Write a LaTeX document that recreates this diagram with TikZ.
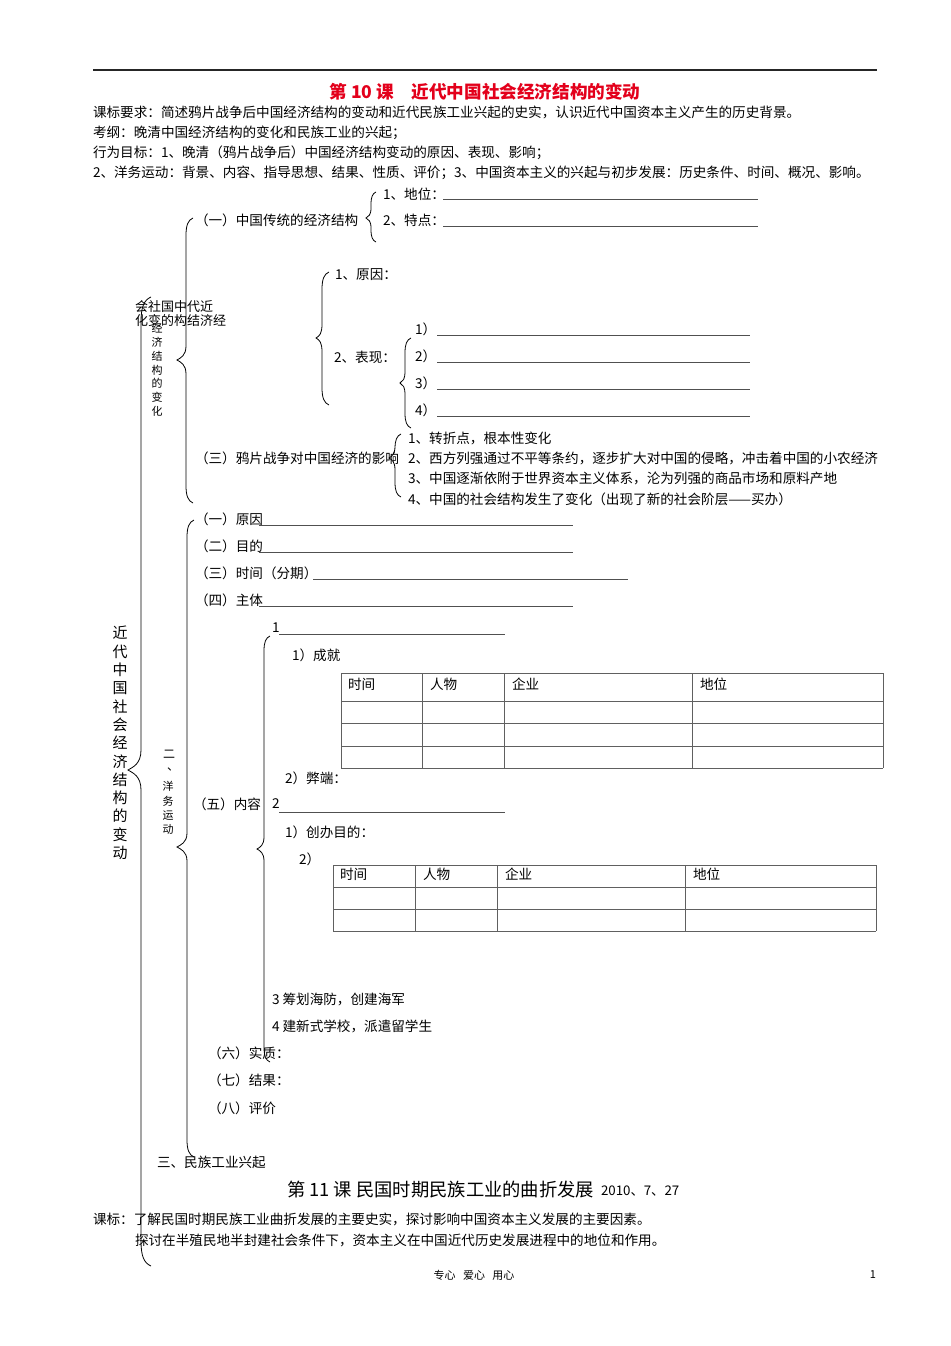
\documentclass[tikz,border=0pt]{standalone}
\usepackage{fontspec}
\setmainfont{Noto Sans CJK SC}
\definecolor{titlered}{HTML}{E3001B}
\definecolor{linegray}{HTML}{505050}
\definecolor{tablegray}{HTML}{606060}
\newcommand\mybrace[6]{% #1 x, #2 top y, #3 tip y, #4 bottom y, #5 tip x, #6 hook
  \draw[bracestyle] (#1+#6,#2) .. controls (#1+0.3*#6,#2+0.3*#6) and (#1,#2+#6) .. (#1,#2+2.5*#6)
    -- (#1,#3-2*#6) .. controls (#1,#3-0.6*#6) and (#5+0.5*#6,#3-0.3*#6) .. (#5,#3)
    .. controls (#5+0.5*#6,#3+0.3*#6) and (#1,#3+0.6*#6) .. (#1,#3+2*#6)
    -- (#1,#4-2.5*#6) .. controls (#1,#4-#6) and (#1+0.3*#6,#4-0.3*#6) .. (#1+#6,#4);}
\begin{document}
\begin{tikzpicture}[x=1pt,y=-1pt,
  txt/.style={inner sep=0pt,outer sep=0pt,anchor=west,font=\fontsize{13.6}{16}\selectfont},
  vtxt/.style={inner sep=0pt,outer sep=0pt,anchor=center,align=center},
  uline/.style={draw=linegray,line width=0.8pt},
  tline/.style={draw=tablegray,line width=1pt},
  bracestyle/.style={draw=black,line width=0.8pt},
  rule/.style={draw=black!85,line width=1.1pt}]
\useasboundingbox (0,0) rectangle (950,1346);
% top rule
\coordinate (ruleL) at (93,70); \coordinate (ruleR) at (877,70);
\draw[rule] (ruleL) -- (ruleR);
% header
\node[inner sep=0pt,anchor=center,text=titlered,font=\fontsize{17.6}{20}\selectfont\bfseries] (title1) at (485,92) {第 10 课　近代中国社会经济结构的变动};
\node[txt] (h1) at (93,112) {课标要求：简述鸦片战争后中国经济结构的变动和近代民族工业兴起的史实，认识近代中国资本主义产生的历史背景。};
\node[txt] (h2) at (93,133) {考纲：晚清中国经济结构的变化和民族工业的兴起；};
\node[txt] (h3) at (93,153) {行为目标：1、晚清（鸦片战争后）中国经济结构变动的原因、表现、影响；};
\node[txt] (h4) at (93,173) {2、洋务运动：背景、内容、指导思想、结果、性质、评价；3、中国资本主义的兴起与初步发展：历史条件、时间、概况、影响。};
% ---------- section one ----------
\node[txt] (a1) at (383,194) {1、地位：};
\coordinate (a1s) at (443,199); \coordinate (a1e) at (758,199);
\draw[uline] (a1s) -- (a1e);
\node[txt] (s11) at (195,220) {（一）中国传统的经济结构};
\node[txt] (a2) at (383,220) {2、特点：};
\coordinate (a2s) at (443,226); \coordinate (a2e) at (758,226);
\draw[uline] (a2s) -- (a2e);
\mybrace{371}{192}{218}{242}{366}{5}
\node[txt] (b1) at (335,275) {1、原因：};
\node[txt] (b2) at (334,357) {2、表现：};
\mybrace{322}{272}{338}{405}{316}{7}
\mybrace{405}{338}{383}{428}{400}{6}
\foreach \i/\yy in {1/329,2/356,3/383,4/410}{
  \node[txt] (p\i) at (415,\yy) {\i）};
  \coordinate (ps\i) at (437,\yy+6); \coordinate (pe\i) at (750,\yy+6);
  \draw[uline] (ps\i) -- (pe\i);
}
\node[txt] (s13) at (195,458) {（三）鸦片战争对中国经济的影响};
\mybrace{395}{434}{458}{497}{389}{6}
\node[txt] (c1) at (408,438) {1、转折点，根本性变化};
\node[txt] (c2) at (408,458) {2、西方列强通过不平等条约，逐步扩大对中国的侵略，冲击着中国的小农经济};
\node[txt] (c3) at (408,478) {3、中国逐渐依附于世界资本主义体系，沦为列强的商品市场和原料产地};
\node[txt] (c4) at (408,499) {4、中国的社会结构发生了变化（出现了新的社会阶层——买办）};
\mybrace{186}{218}{360}{503}{177}{7}
% garbled label
\node[txt,font=\fontsize{13}{15}\selectfont] (g1) at (135,307) {会社国中代近};
\node[txt,font=\fontsize{13}{15}\selectfont] (g2) at (135,321) {化变的构结济经};
\node[vtxt,font=\fontsize{11}{13.8}\selectfont] (v1) at (157,370) {经\\济\\结\\构\\的\\变\\化};
% ---------- section two ----------
\node[txt] (d1) at (195,519) {（一）原因};
\coordinate (d1s) at (259,525); \coordinate (d1e) at (573,525); \draw[uline] (d1s) -- (d1e);
\node[txt] (d2) at (195,546) {（二）目的};
\coordinate (d2s) at (259,552); \coordinate (d2e) at (573,552); \draw[uline] (d2s) -- (d2e);
\node[txt] (d3) at (195,573) {（三）时间（分期）};
\coordinate (d3s) at (313,579); \coordinate (d3e) at (628,579); \draw[uline] (d3s) -- (d3e);
\node[txt] (d4) at (195,600) {（四）主体};
\coordinate (d4s) at (259,606); \coordinate (d4e) at (573,606); \draw[uline] (d4s) -- (d4e);
\node[txt] (e1) at (272,628) {1};
\coordinate (e1s) at (279,634); \coordinate (e1e) at (505,634); \draw[uline] (e1s) -- (e1e);
\node[txt] (e11) at (292,655) {1）成就};
% table 1
\foreach \yy [count=\k] in {673,701,723,746,768}{
  \coordinate (t1l\k) at (341,\yy); \coordinate (t1r\k) at (883,\yy);
  \draw[tline] (t1l\k) -- (t1r\k);
}
\foreach \xx [count=\k] in {341,422,504,692,883}{
  \coordinate (t1t\k) at (\xx,673); \coordinate (t1b\k) at (\xx,768);
  \draw[tline] (t1t\k) -- (t1b\k);
}
\node[txt] (t1h1) at (348,684) {时间};
\node[txt] (t1h2) at (430,684) {人物};
\node[txt] (t1h3) at (512,684) {企业};
\node[txt] (t1h4) at (700,684) {地位};
\node[txt] (e12) at (285,778) {2）弊端：};
\node[txt] (s25) at (193,804) {（五）内容};
\node[txt] (e2) at (272,804) {2};
\coordinate (e2s) at (279,812); \coordinate (e2e) at (505,812); \draw[uline] (e2s) -- (e2e);
\node[txt] (e21) at (285,832) {1）创办目的：};
\node[txt] (e22) at (299,859) {2）};
% table 2
\foreach \yy [count=\k] in {865,887,909,931}{
  \coordinate (t2l\k) at (333,\yy); \coordinate (t2r\k) at (876,\yy);
  \draw[tline] (t2l\k) -- (t2r\k);
}
\foreach \xx [count=\k] in {333,415,497,685,876}{
  \coordinate (t2t\k) at (\xx,865); \coordinate (t2b\k) at (\xx,931);
  \draw[tline] (t2t\k) -- (t2b\k);
}
\node[txt] (t2h1) at (340,874) {时间};
\node[txt] (t2h2) at (423,874) {人物};
\node[txt] (t2h3) at (505,874) {企业};
\node[txt] (t2h4) at (693,874) {地位};
\node[txt] (e3) at (272,999) {3 筹划海防，创建海军};
\node[txt] (e4) at (272,1026) {4 建新式学校，派遣留学生};
\mybrace{264}{636}{849}{1062}{257}{6}
\node[txt] (d6) at (208,1053) {（六）实质：};
\node[txt] (d7) at (208,1080) {（七）结果：};
\node[txt] (d8) at (208,1108) {（八）评价};
\mybrace{187}{520}{847}{1157}{177}{7}
\node[txt,font=\fontsize{12}{14}\selectfont] (v2a) at (163,754) {二};
\node[txt,font=\fontsize{12}{14}\selectfont] (v2b) at (167,769) {、};
\node[vtxt,font=\fontsize{11}{14.3}\selectfont] (v2) at (168,808) {洋\\务\\运\\动};
% ---------- section three ----------
\node[txt] (s3) at (157,1162) {三、民族工业兴起};
% whole brace
\node[vtxt,font=\fontsize{15}{18.3}\selectfont] (vmain) at (120,743) {近\\代\\中\\国\\社\\会\\经\\济\\结\\构\\的\\变\\动};
\mybrace{141}{297}{770}{1266}{128}{10}
% lesson 11
\node[txt,font=\fontsize{18.3}{21}\selectfont] (title2) at (287,1190) {第 11 课 民国时期民族工业的曲折发展};
\node[txt,font=\fontsize{13.3}{15}\selectfont] (date) at (601,1191) {2010、7、27};
\node[txt] (k1) at (93,1219) {课标：了解民国时期民族工业曲折发展的主要史实，探讨影响中国资本主义发展的主要因素。};
\node[txt] (k2) at (135,1240) {探讨在半殖民地半封建社会条件下，资本主义在中国近代历史发展进程中的地位和作用。};
% footer
\node[inner sep=0pt,anchor=center,font=\fontsize{11}{13}\selectfont] (foot) at (474,1275) {专心\ \ \ 爱心\ \ \ 用心};
\node[inner sep=0pt,anchor=center,font=\fontsize{11}{13}\selectfont] (pg) at (873,1275) {1};
\end{tikzpicture}
\end{document}
